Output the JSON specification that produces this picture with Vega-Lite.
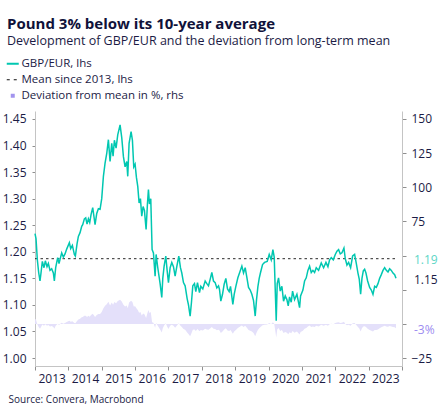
{
  "$schema": "https://vega.github.io/schema/vega-lite/v6.json",
  "width": 367,
  "height": 255,
  "autosize": "none",
  "padding": {"left": 35, "top": 111, "right": 42, "bottom": 49},
  "title": {
    "text": "Pound 3% below its 10-year average",
    "subtitle": "Development of GBP/EUR and the deviation from long-term mean",
    "anchor": "start",
    "frame": "group",
    "dx": -28,
    "offset": 11,
    "fontSize": 15,
    "fontWeight": "bold",
    "color": "#10123a",
    "subtitleFontSize": 12.5,
    "subtitleColor": "#1b1b45",
    "subtitlePadding": 3
  },
  "data": {
    "values": [
      {"t": 2013.00, "gbp": 1.234, "dev": 3.7},
      {"t": 2013.03, "gbp": 1.225, "dev": 3.0},
      {"t": 2013.07, "gbp": 1.185, "dev": -0.2},
      {"t": 2013.11, "gbp": 1.161, "dev": -2.2},
      {"t": 2013.15, "gbp": 1.145, "dev": -3.5},
      {"t": 2013.18, "gbp": 1.160, "dev": -2.3},
      {"t": 2013.22, "gbp": 1.182, "dev": -0.4},
      {"t": 2013.27, "gbp": 1.170, "dev": -1.4},
      {"t": 2013.31, "gbp": 1.183, "dev": -0.3},
      {"t": 2013.36, "gbp": 1.172, "dev": -1.3},
      {"t": 2013.40, "gbp": 1.178, "dev": -0.8},
      {"t": 2013.45, "gbp": 1.165, "dev": -1.9},
      {"t": 2013.50, "gbp": 1.168, "dev": -1.6},
      {"t": 2013.55, "gbp": 1.160, "dev": -2.3},
      {"t": 2013.58, "gbp": 1.145, "dev": -3.5},
      {"t": 2013.62, "gbp": 1.170, "dev": -1.4},
      {"t": 2013.68, "gbp": 1.189, "dev": 0.2},
      {"t": 2013.72, "gbp": 1.178, "dev": -0.8},
      {"t": 2013.76, "gbp": 1.188, "dev": 0.1},
      {"t": 2013.80, "gbp": 1.198, "dev": 0.9},
      {"t": 2013.85, "gbp": 1.190, "dev": 0.2},
      {"t": 2013.90, "gbp": 1.196, "dev": 0.7},
      {"t": 2013.95, "gbp": 1.205, "dev": 1.4},
      {"t": 2014.03, "gbp": 1.217, "dev": 2.3},
      {"t": 2014.07, "gbp": 1.206, "dev": 1.5},
      {"t": 2014.12, "gbp": 1.212, "dev": 2.0},
      {"t": 2014.18, "gbp": 1.195, "dev": 0.6},
      {"t": 2014.21, "gbp": 1.192, "dev": 0.4},
      {"t": 2014.26, "gbp": 1.215, "dev": 2.2},
      {"t": 2014.30, "gbp": 1.229, "dev": 3.3},
      {"t": 2014.35, "gbp": 1.236, "dev": 3.8},
      {"t": 2014.40, "gbp": 1.248, "dev": 4.8},
      {"t": 2014.43, "gbp": 1.251, "dev": 5.0},
      {"t": 2014.48, "gbp": 1.262, "dev": 5.9},
      {"t": 2014.52, "gbp": 1.264, "dev": 6.0},
      {"t": 2014.56, "gbp": 1.252, "dev": 5.1},
      {"t": 2014.60, "gbp": 1.262, "dev": 5.9},
      {"t": 2014.64, "gbp": 1.255, "dev": 5.3},
      {"t": 2014.68, "gbp": 1.270, "dev": 6.5},
      {"t": 2014.73, "gbp": 1.283, "dev": 7.5},
      {"t": 2014.77, "gbp": 1.265, "dev": 6.1},
      {"t": 2014.80, "gbp": 1.251, "dev": 5.0},
      {"t": 2014.85, "gbp": 1.272, "dev": 6.6},
      {"t": 2014.90, "gbp": 1.281, "dev": 7.3},
      {"t": 2014.95, "gbp": 1.280, "dev": 7.3},
      {"t": 2015.00, "gbp": 1.300, "dev": 8.8},
      {"t": 2015.05, "gbp": 1.342, "dev": 11.5},
      {"t": 2015.10, "gbp": 1.367, "dev": 13.2},
      {"t": 2015.15, "gbp": 1.385, "dev": 14.4},
      {"t": 2015.20, "gbp": 1.411, "dev": 16.2},
      {"t": 2015.25, "gbp": 1.370, "dev": 13.4},
      {"t": 2015.30, "gbp": 1.404, "dev": 15.7},
      {"t": 2015.34, "gbp": 1.380, "dev": 14.1},
      {"t": 2015.38, "gbp": 1.410, "dev": 16.1},
      {"t": 2015.43, "gbp": 1.395, "dev": 15.1},
      {"t": 2015.48, "gbp": 1.420, "dev": 16.8},
      {"t": 2015.55, "gbp": 1.439, "dev": 17.6},
      {"t": 2015.60, "gbp": 1.415, "dev": 16.4},
      {"t": 2015.65, "gbp": 1.379, "dev": 14.0},
      {"t": 2015.70, "gbp": 1.360, "dev": 12.7},
      {"t": 2015.75, "gbp": 1.370, "dev": 13.4},
      {"t": 2015.78, "gbp": 1.342, "dev": 11.5},
      {"t": 2015.82, "gbp": 1.404, "dev": 15.7},
      {"t": 2015.88, "gbp": 1.426, "dev": 17.0},
      {"t": 2015.92, "gbp": 1.410, "dev": 16.1},
      {"t": 2015.96, "gbp": 1.360, "dev": 12.7},
      {"t": 2016.00, "gbp": 1.365, "dev": 13.0},
      {"t": 2016.04, "gbp": 1.340, "dev": 11.4},
      {"t": 2016.08, "gbp": 1.323, "dev": 10.2},
      {"t": 2016.12, "gbp": 1.292, "dev": 8.2},
      {"t": 2016.16, "gbp": 1.300, "dev": 8.8},
      {"t": 2016.20, "gbp": 1.267, "dev": 6.2},
      {"t": 2016.24, "gbp": 1.285, "dev": 7.6},
      {"t": 2016.28, "gbp": 1.278, "dev": 7.1},
      {"t": 2016.33, "gbp": 1.242, "dev": 4.3},
      {"t": 2016.37, "gbp": 1.290, "dev": 8.0},
      {"t": 2016.40, "gbp": 1.317, "dev": 10.1},
      {"t": 2016.43, "gbp": 1.290, "dev": 8.0},
      {"t": 2016.47, "gbp": 1.300, "dev": 8.8},
      {"t": 2016.51, "gbp": 1.204, "dev": 1.3},
      {"t": 2016.55, "gbp": 1.198, "dev": 0.9},
      {"t": 2016.60, "gbp": 1.154, "dev": -2.8},
      {"t": 2016.63, "gbp": 1.195, "dev": 0.6},
      {"t": 2016.68, "gbp": 1.170, "dev": -1.4},
      {"t": 2016.75, "gbp": 1.140, "dev": -4.0},
      {"t": 2016.80, "gbp": 1.114, "dev": -6.2},
      {"t": 2016.83, "gbp": 1.150, "dev": -3.1},
      {"t": 2016.87, "gbp": 1.173, "dev": -1.2},
      {"t": 2016.92, "gbp": 1.192, "dev": 0.4},
      {"t": 2016.96, "gbp": 1.165, "dev": -1.9},
      {"t": 2017.00, "gbp": 1.142, "dev": -3.8},
      {"t": 2017.05, "gbp": 1.170, "dev": -1.4},
      {"t": 2017.10, "gbp": 1.180, "dev": -0.6},
      {"t": 2017.15, "gbp": 1.172, "dev": -1.3},
      {"t": 2017.20, "gbp": 1.154, "dev": -2.8},
      {"t": 2017.25, "gbp": 1.172, "dev": -1.3},
      {"t": 2017.31, "gbp": 1.192, "dev": 0.4},
      {"t": 2017.36, "gbp": 1.170, "dev": -1.4},
      {"t": 2017.40, "gbp": 1.160, "dev": -2.3},
      {"t": 2017.45, "gbp": 1.142, "dev": -3.8},
      {"t": 2017.50, "gbp": 1.136, "dev": -4.3},
      {"t": 2017.56, "gbp": 1.112, "dev": -6.3},
      {"t": 2017.60, "gbp": 1.100, "dev": -7.3},
      {"t": 2017.65, "gbp": 1.079, "dev": -9.1},
      {"t": 2017.69, "gbp": 1.105, "dev": -6.9},
      {"t": 2017.73, "gbp": 1.136, "dev": -4.3},
      {"t": 2017.78, "gbp": 1.140, "dev": -4.0},
      {"t": 2017.82, "gbp": 1.125, "dev": -5.2},
      {"t": 2017.87, "gbp": 1.142, "dev": -3.8},
      {"t": 2017.93, "gbp": 1.123, "dev": -5.4},
      {"t": 2017.97, "gbp": 1.135, "dev": -4.4},
      {"t": 2018.03, "gbp": 1.130, "dev": -4.8},
      {"t": 2018.10, "gbp": 1.145, "dev": -3.5},
      {"t": 2018.15, "gbp": 1.140, "dev": -4.0},
      {"t": 2018.20, "gbp": 1.136, "dev": -4.3},
      {"t": 2018.25, "gbp": 1.148, "dev": -3.3},
      {"t": 2018.30, "gbp": 1.161, "dev": -2.2},
      {"t": 2018.35, "gbp": 1.145, "dev": -3.5},
      {"t": 2018.40, "gbp": 1.142, "dev": -3.8},
      {"t": 2018.45, "gbp": 1.132, "dev": -4.6},
      {"t": 2018.50, "gbp": 1.136, "dev": -4.3},
      {"t": 2018.53, "gbp": 1.129, "dev": -4.9},
      {"t": 2018.57, "gbp": 1.107, "dev": -6.7},
      {"t": 2018.62, "gbp": 1.120, "dev": -5.6},
      {"t": 2018.67, "gbp": 1.139, "dev": -4.0},
      {"t": 2018.72, "gbp": 1.150, "dev": -3.1},
      {"t": 2018.77, "gbp": 1.130, "dev": -4.8},
      {"t": 2018.82, "gbp": 1.125, "dev": -5.2},
      {"t": 2018.86, "gbp": 1.135, "dev": -4.4},
      {"t": 2018.93, "gbp": 1.101, "dev": -7.2},
      {"t": 2018.97, "gbp": 1.120, "dev": -5.6},
      {"t": 2019.02, "gbp": 1.135, "dev": -4.4},
      {"t": 2019.08, "gbp": 1.151, "dev": -3.0},
      {"t": 2019.15, "gbp": 1.164, "dev": -1.9},
      {"t": 2019.20, "gbp": 1.173, "dev": -1.2},
      {"t": 2019.25, "gbp": 1.160, "dev": -2.3},
      {"t": 2019.30, "gbp": 1.170, "dev": -1.4},
      {"t": 2019.35, "gbp": 1.152, "dev": -2.9},
      {"t": 2019.40, "gbp": 1.133, "dev": -4.5},
      {"t": 2019.45, "gbp": 1.128, "dev": -5.0},
      {"t": 2019.50, "gbp": 1.120, "dev": -5.6},
      {"t": 2019.55, "gbp": 1.108, "dev": -6.7},
      {"t": 2019.60, "gbp": 1.079, "dev": -9.1},
      {"t": 2019.64, "gbp": 1.110, "dev": -6.5},
      {"t": 2019.68, "gbp": 1.134, "dev": -4.5},
      {"t": 2019.72, "gbp": 1.150, "dev": -3.1},
      {"t": 2019.76, "gbp": 1.161, "dev": -2.2},
      {"t": 2019.82, "gbp": 1.176, "dev": -0.9},
      {"t": 2019.88, "gbp": 1.180, "dev": -0.6},
      {"t": 2019.96, "gbp": 1.182, "dev": -0.4},
      {"t": 2020.02, "gbp": 1.195, "dev": 0.6},
      {"t": 2020.08, "gbp": 1.185, "dev": -0.2},
      {"t": 2020.13, "gbp": 1.204, "dev": 1.3},
      {"t": 2020.17, "gbp": 1.190, "dev": 0.2},
      {"t": 2020.21, "gbp": 1.110, "dev": -6.5},
      {"t": 2020.23, "gbp": 1.070, "dev": -9.9},
      {"t": 2020.26, "gbp": 1.140, "dev": -4.0},
      {"t": 2020.30, "gbp": 1.151, "dev": -3.0},
      {"t": 2020.35, "gbp": 1.126, "dev": -5.1},
      {"t": 2020.40, "gbp": 1.135, "dev": -4.4},
      {"t": 2020.45, "gbp": 1.107, "dev": -6.7},
      {"t": 2020.50, "gbp": 1.117, "dev": -5.9},
      {"t": 2020.55, "gbp": 1.110, "dev": -6.5},
      {"t": 2020.59, "gbp": 1.098, "dev": -7.5},
      {"t": 2020.63, "gbp": 1.115, "dev": -6.1},
      {"t": 2020.68, "gbp": 1.105, "dev": -6.9},
      {"t": 2020.72, "gbp": 1.126, "dev": -5.1},
      {"t": 2020.78, "gbp": 1.110, "dev": -6.5},
      {"t": 2020.85, "gbp": 1.120, "dev": -5.6},
      {"t": 2020.93, "gbp": 1.095, "dev": -7.8},
      {"t": 2020.96, "gbp": 1.117, "dev": -5.9},
      {"t": 2021.03, "gbp": 1.128, "dev": -5.0},
      {"t": 2021.08, "gbp": 1.145, "dev": -3.5},
      {"t": 2021.13, "gbp": 1.151, "dev": -3.0},
      {"t": 2021.18, "gbp": 1.165, "dev": -1.9},
      {"t": 2021.23, "gbp": 1.173, "dev": -1.2},
      {"t": 2021.28, "gbp": 1.161, "dev": -2.2},
      {"t": 2021.33, "gbp": 1.165, "dev": -1.9},
      {"t": 2021.38, "gbp": 1.161, "dev": -2.2},
      {"t": 2021.43, "gbp": 1.170, "dev": -1.4},
      {"t": 2021.50, "gbp": 1.165, "dev": -1.9},
      {"t": 2021.58, "gbp": 1.179, "dev": -0.7},
      {"t": 2021.65, "gbp": 1.170, "dev": -1.4},
      {"t": 2021.72, "gbp": 1.180, "dev": -0.6},
      {"t": 2021.78, "gbp": 1.172, "dev": -1.3},
      {"t": 2021.83, "gbp": 1.185, "dev": -0.2},
      {"t": 2021.88, "gbp": 1.189, "dev": 0.2},
      {"t": 2021.94, "gbp": 1.185, "dev": -0.2},
      {"t": 2022.00, "gbp": 1.195, "dev": 0.6},
      {"t": 2022.05, "gbp": 1.201, "dev": 1.1},
      {"t": 2022.10, "gbp": 1.204, "dev": 1.3},
      {"t": 2022.15, "gbp": 1.196, "dev": 0.7},
      {"t": 2022.20, "gbp": 1.198, "dev": 0.9},
      {"t": 2022.26, "gbp": 1.207, "dev": 1.6},
      {"t": 2022.30, "gbp": 1.187, "dev": 0.0},
      {"t": 2022.35, "gbp": 1.175, "dev": -1.0},
      {"t": 2022.40, "gbp": 1.180, "dev": -0.6},
      {"t": 2022.46, "gbp": 1.170, "dev": -1.4},
      {"t": 2022.52, "gbp": 1.192, "dev": 0.4},
      {"t": 2022.58, "gbp": 1.195, "dev": 0.6},
      {"t": 2022.63, "gbp": 1.178, "dev": -0.8},
      {"t": 2022.68, "gbp": 1.160, "dev": -2.3},
      {"t": 2022.72, "gbp": 1.148, "dev": -3.3},
      {"t": 2022.76, "gbp": 1.120, "dev": -5.6},
      {"t": 2022.80, "gbp": 1.150, "dev": -3.1},
      {"t": 2022.84, "gbp": 1.164, "dev": -1.9},
      {"t": 2022.88, "gbp": 1.167, "dev": -1.7},
      {"t": 2022.92, "gbp": 1.160, "dev": -2.3},
      {"t": 2022.97, "gbp": 1.145, "dev": -3.5},
      {"t": 2023.03, "gbp": 1.133, "dev": -4.5},
      {"t": 2023.08, "gbp": 1.128, "dev": -5.0},
      {"t": 2023.13, "gbp": 1.120, "dev": -5.6},
      {"t": 2023.18, "gbp": 1.135, "dev": -4.4},
      {"t": 2023.23, "gbp": 1.133, "dev": -4.5},
      {"t": 2023.28, "gbp": 1.140, "dev": -4.0},
      {"t": 2023.33, "gbp": 1.150, "dev": -3.1},
      {"t": 2023.38, "gbp": 1.157, "dev": -2.5},
      {"t": 2023.43, "gbp": 1.165, "dev": -1.9},
      {"t": 2023.48, "gbp": 1.170, "dev": -1.4},
      {"t": 2023.53, "gbp": 1.165, "dev": -1.9},
      {"t": 2023.58, "gbp": 1.162, "dev": -2.1},
      {"t": 2023.63, "gbp": 1.168, "dev": -1.6},
      {"t": 2023.68, "gbp": 1.165, "dev": -1.9},
      {"t": 2023.73, "gbp": 1.160, "dev": -2.3},
      {"t": 2023.78, "gbp": 1.157, "dev": -2.5},
      {"t": 2023.82, "gbp": 1.150, "dev": -3.1}
    ]
  },
  "layer": [
    {
      "mark": {"type": "area", "color": "#e4e0fa"},
      "encoding": {
        "x": {
          "field": "t",
          "type": "quantitative",
          "scale": {"domain": [2013, 2024], "nice": false, "zero": false},
          "axis": {
            "values": [2013, 2014, 2015, 2016, 2017, 2018, 2019, 2020, 2021, 2022, 2023, 2024],
            "tickCount": 12,
            "format": "d",
            "labelExpr": "datum.value == 2024 ? '' : datum.label",
            "labelOverlap": false,
            "labelOffset": 16.7,
            "labelAlign": "center",
            "labelPadding": 3,
            "labelFontSize": 12,
            "tickSize": 4,
            "title": "Source: Convera, Macrobond",
            "titleX": -27,
            "titleY": 33,
            "titleAlign": "left",
            "titleBaseline": "middle",
            "titleFontWeight": "normal",
            "titleFontSize": 10,
            "titleColor": "#1b1b45"
          }
        },
        "y": {
          "field": "dev",
          "type": "quantitative",
          "scale": {"domain": [-30.8, 155.8], "nice": false, "zero": false},
          "axis": {
            "orient": "right",
            "values": [-25, 0, 25, 50, 75, 100, 125, 150],
            "labelExpr": "datum.value == 0 || datum.value == 25 || datum.value == 50 ? '' : datum.label",
            "tickSize": 4,
            "labelPadding": 5,
            "labelFontSize": 12,
            "title": null
          }
        },
        "y2": {"datum": 0}
      }
    },
    {
      "mark": {"type": "rule", "strokeDash": [2.5, 3], "color": "#111111", "strokeWidth": 0.9},
      "encoding": {
        "x": {"field": "t0", "type": "quantitative"},
        "x2": {"field": "t1"},
        "y": {
          "field": "m",
          "type": "quantitative",
          "scale": {"domain": [0.985, 1.465], "nice": false, "zero": false},
          "axis": null
        }
      },
      "data": {"values": [{"t0": 2013, "t1": 2023.82, "m": 1.187}]}
    },
    {
      "mark": {"type": "line", "strokeWidth": 1.5},
      "encoding": {
        "x": {"field": "t", "type": "quantitative"},
        "y": {
          "field": "gbp",
          "type": "quantitative",
          "scale": {"domain": [0.985, 1.465], "nice": false, "zero": false},
          "axis": {
            "values": [1.0, 1.05, 1.1, 1.15, 1.2, 1.25, 1.3, 1.35, 1.4, 1.45],
            "format": ".2f",
            "tickSize": 3,
            "labelPadding": 6,
            "labelFontSize": 12,
            "title": null
          }
        },
        "color": {
          "datum": "GBP/EUR, lhs",
          "scale": {
            "domain": ["GBP/EUR, lhs", "Mean since 2013, lhs", "Deviation from mean in %, rhs"],
            "range": ["#00c7b1", "#111111", "#a294ee"]
          },
          "legend": {
            "orient": "none",
            "legendX": -28,
            "legendY": -53,
            "title": null,
            "symbolType": "stroke",
            "symbolStrokeWidth": 2,
            "symbolSize": 144,
            "labelFontSize": 11.5,
            "labelColor": "#1b1b45",
            "labelOffset": 3,
            "labelLimit": 0,
            "rowPadding": 3,
            "encode": {
              "symbols": {
                "update": {
                  "shape": {"signal": "datum.label == 'Deviation from mean in %, rhs' ? 'square' : 'stroke'"},
                  "size": {"signal": "datum.label == 'Deviation from mean in %, rhs' ? 16 : 144"},
                  "fill": {"signal": "datum.label == 'Deviation from mean in %, rhs' ? '#a294ee' : 'transparent'"},
                  "strokeWidth": {"signal": "datum.label == 'Deviation from mean in %, rhs' ? 0 : (datum.label == 'Mean since 2013, lhs' ? 1.2 : 2)"},
                  "strokeDash": {"signal": "datum.label == 'Mean since 2013, lhs' ? [3, 4] : [1, 0]"},
                  "opacity": {"value": 1}
                }
              }
            }
          }
        }
      }
    },
    {
      "data": {"values": [{"t": 2023.82, "v": 1.187, "label": "1.19"}]},
      "mark": {"type": "text", "align": "left", "dx": 18, "dy": 1, "fontSize": 12, "color": "#5dd6c6"},
      "encoding": {
        "x": {"field": "t", "type": "quantitative"},
        "y": {
          "field": "v",
          "type": "quantitative",
          "scale": {"domain": [0.985, 1.465], "nice": false, "zero": false},
          "axis": null
        },
        "text": {"field": "label"}
      }
    },
    {
      "data": {"values": [{"t": 2023.82, "v": 1.15, "label": "1.15"}]},
      "mark": {"type": "text", "align": "left", "dx": 18, "dy": 2, "fontSize": 12, "color": "#1b1b45"},
      "encoding": {
        "x": {"field": "t", "type": "quantitative"},
        "y": {
          "field": "v",
          "type": "quantitative",
          "scale": {"domain": [0.985, 1.465], "nice": false, "zero": false},
          "axis": null
        },
        "text": {"field": "label"}
      }
    },
    {
      "data": {"values": [{"t": 2023.82, "v": -3.1, "label": "-3%"}]},
      "mark": {"type": "text", "align": "left", "dx": 18, "dy": 2, "fontSize": 12, "color": "#9d8cf0"},
      "encoding": {
        "x": {"field": "t", "type": "quantitative"},
        "y": {
          "field": "v",
          "type": "quantitative",
          "scale": {"domain": [-30.8, 155.8], "nice": false, "zero": false},
          "axis": null
        },
        "text": {"field": "label"}
      }
    }
  ],
  "resolve": {"scale": {"y": "independent"}},
  "config": {
    "font": "Open Sans",
    "view": {"stroke": null},
    "axis": {
      "grid": false,
      "labelColor": "#1b1b45",
      "domainColor": "#c4c4c4",
      "tickColor": "#8f8f8f",
      "labelFont": "Open Sans"
    },
    "axisX": {"labelOverlap": false, "labelFlush": false, "labelBound": false, "labelSeparation": 0},
    "legend": {"labelFont": "Open Sans"},
    "title": {"font": "Open Sans", "subtitleFont": "Open Sans"}
  }
}
